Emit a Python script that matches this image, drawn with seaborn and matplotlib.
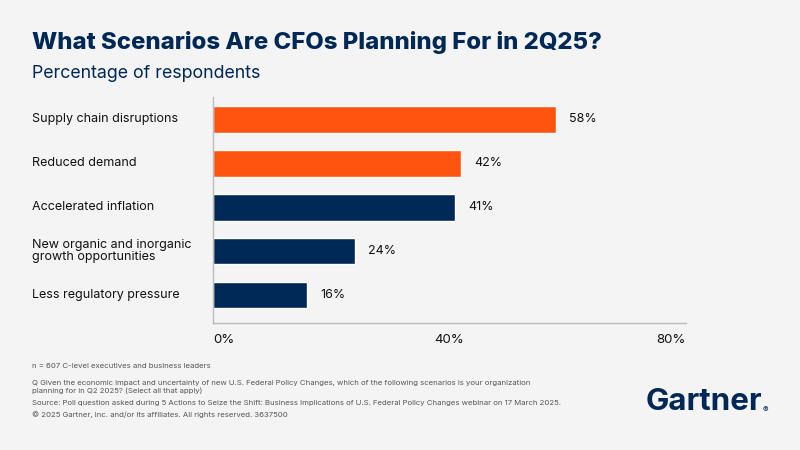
import pandas as pd
import matplotlib.pyplot as plt
import seaborn as sns

categories = [
    "Supply chain disruptions",
    "Reduced demand",
    "Accelerated inflation",
    "New organic and inorganic\ngrowth opportunities",
    "Less regulatory pressure",
]
values = [58, 42, 41, 24, 16]
highlight = ["yes", "yes", "no", "no", "no"]
x_ticks = [0, 40, 80]
x_tick_labels = ["0%", "40%", "80%"]

ORANGE = "#FF5410"
NAVY = "#002856"
BG = "#F4F4F4"

df = pd.DataFrame({"scenario": categories, "pct": values, "hl": highlight})

sns.set_theme(style="white")
plt.rcParams["font.family"] = ["Inter", "DejaVu Sans"]

fig = plt.figure(figsize=(8, 4.5), dpi=100, facecolor=BG)
ax = fig.add_axes([0.266, 0.2822, 0.5915, 0.5022])
ax.set_facecolor(BG)

sns.barplot(data=df, x="pct", y="scenario", hue="hl", dodge=False,
            palette={"yes": ORANGE, "no": NAVY}, width=0.61, saturation=1,
            legend=False, ax=ax, orient="h")

for i, v in enumerate(values):
    ax.text(v + 2.2, i, f"{v}%", va="center", ha="left", fontsize=9, color="#111111")

ax.set_xlim(0, 80)
ax.set_ylim(4.64, -0.51)
ax.set_xticks(x_ticks)
ax.set_xticklabels(x_tick_labels, fontsize=9.5, color="#111111")
for lbl, ha in zip(ax.get_xticklabels(), ["left", "center", "right"]):
    lbl.set_horizontalalignment(ha)
ax.tick_params(axis="x", length=0, pad=8)
ax.tick_params(axis="y", length=0)
ax.set_yticklabels([])
ax.set_xlabel("")
ax.set_ylabel("")

for s in ["top", "right"]:
    ax.spines[s].set_visible(False)
for s in ["left", "bottom"]:
    ax.spines[s].set_color("#BBBBBB")
    ax.spines[s].set_linewidth(1)

# category labels, left aligned at the page margin
for i, c in enumerate(categories):
    ax.text(32, ax.transData.transform((0, i))[1], c, transform=None,
            ha="left", va="center", fontsize=9, color="#111111", linespacing=1.0)

fig.text(32 / 800, 1 - 43 / 450, "What Scenarios Are CFOs Planning For in 2Q25?",
         fontsize=17.2, fontweight="heavy", color=NAVY, va="center", ha="left")
fig.text(32 / 800, 1 - 73 / 450, "Percentage of respondents",
         fontsize=12.8, color=NAVY, va="center", ha="left")

foot = "#555555"
fig.text(32 / 800, 1 - 366 / 450, "n = 607 C-level executives and business leaders",
         fontsize=5.6, color=foot, va="center")
fig.text(32 / 800, 1 - 387 / 450,
         "Q Given the economic impact and uncertainty of new U.S. Federal Policy Changes, which of the following scenarios is your organization\nplanning for in Q2 2025? (Select all that apply)",
         fontsize=5.6, color=foot, va="center", linespacing=1.2)
fig.text(32 / 800, 1 - 403 / 450,
         "Source: Poll question asked during 5 Actions to Seize the Shift: Business Implications of U.S. Federal Policy Changes webinar on 17 March 2025.",
         fontsize=5.6, color=foot, va="center")
fig.text(32 / 800, 1 - 415 / 450,
         "\u00a9 2025 Gartner, Inc. and/or its affiliates. All rights reserved. 3637500",
         fontsize=5.6, color=foot, va="center")

fig.text(646 / 800, 1 - 402 / 450, "Gartner", fontsize=22.5, fontweight="bold",
         color=NAVY, va="center", ha="left")
fig.text(763 / 800, 1 - 410 / 450, "\u00ae", fontsize=6, color=NAVY, va="center", ha="left")

fig.savefig("out.png", dpi=100, facecolor=BG)
